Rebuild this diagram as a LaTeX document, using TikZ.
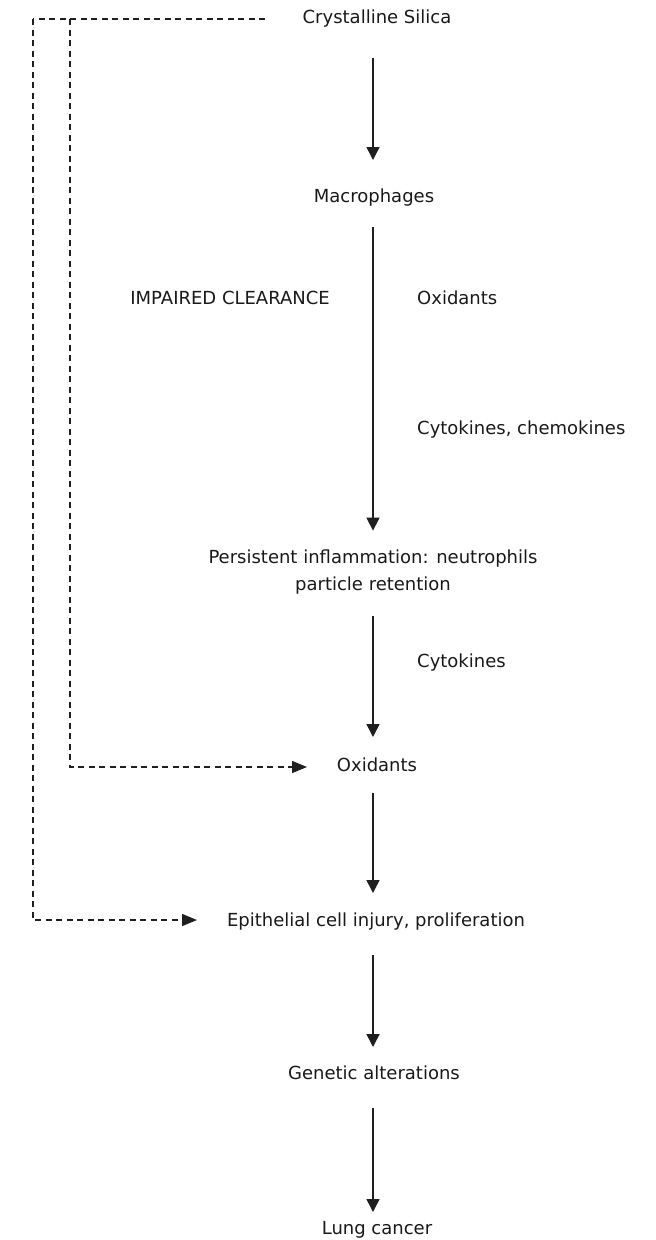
\documentclass[tikz,border=0pt]{standalone}
\usepackage{fontspec}
\setmainfont{DejaVu Sans}
\usetikzlibrary{arrows.meta,calc}
\begin{document}
\begin{tikzpicture}[x=1pt,y=-1pt,
  lbl/.style={font=\fontsize{18}{27}\selectfont, text=black!90, inner sep=3pt, text height=13.5pt, text depth=4pt},
  lblm/.style={font=\fontsize{18}{27}\selectfont, text=black!90, inner sep=3pt, align=center},
  arr/.style={line width=1.5pt, draw=black!88, -{Triangle[width=13pt,length=13pt]}},
  dsh/.style={line width=1.5pt, draw=black!88, dash pattern=on 6pt off 4.5pt},
  darr/.style={dsh, -{Triangle[width=12pt,length=15pt]}}]
\useasboundingbox (0,0) rectangle (656,1240);
\fill[white] (0,0) rectangle (656,1240);
% nodes
\node[lbl] (cs) at (377,19) {Crystalline Silica};
\node[lbl] (mac) at (374,198) {Macrophages};
\node[lbl, anchor=east] (imp) at (333,300) {IMPAIRED CLEARANCE};
\node[lbl, anchor=west] (ox1) at (414,300) {Oxidants};
\node[lbl, anchor=west] (cc) at (414,430) {Cytokines, chemokines};
\node[lblm] (pers) at (373,572) {Persistent inflammation: neutrophils\\particle retention};
\node[lbl, anchor=west] (cyt) at (414,663) {Cytokines};
\node[lbl] (ox2) at (377,767) {Oxidants};
\node[lbl] (epi) at (376,922) {Epithelial cell injury, proliferation};
\node[lbl] (gen) at (374,1075) {Genetic alterations};
\node[lbl] (lung) at (377,1230) {Lung cancer};
% main arrows
\draw[arr] ($(cs.center)+(-4,39)$) -- ($(mac.center)+(-1,-38)$);
\draw[arr] ($(mac.center)+(-1,29)$) -- ($(pers.north)+(0,-16)$);
\draw[arr] ($(pers.south)+(0,19)$) -- ($(ox2.center)+(-4,-30)$);
\draw[arr] ($(ox2.center)+(-4,26)$) -- ($(epi.center)+(-3,-29)$);
\draw[arr] ($(epi.center)+(-3,33)$) -- ($(gen.center)+(-1,-28)$);
\draw[arr] ($(gen.center)+(-1,33)$) -- ($(lung.center)+(-4,-18)$);
% dashed feedback
\coordinate (tl) at (33,19);
\coordinate (tj) at (70,19);
\draw[dsh] ($(cs.center)+(-112,0)$) -- (tl);
\draw[darr] (tl) |- ($(epi.center)+(-179,-2)$);
\draw[darr] (tj) |- ($(ox2.center)+(-70,0)$);
\end{tikzpicture}
\end{document}
